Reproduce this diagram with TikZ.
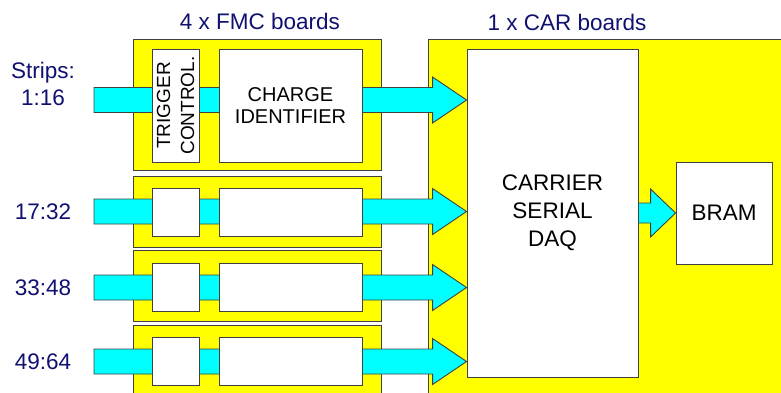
\documentclass[tikz,border=0pt]{standalone}
\usepackage{fontspec}
\setmainfont{Liberation Sans}
\usetikzlibrary{calc}
\definecolor{boardyellow}{RGB}{255,255,0}
\definecolor{busblue}{RGB}{0,255,255}
\definecolor{labelnavy}{RGB}{16,16,112}
\definecolor{edgegray}{RGB}{64,64,64}
\tikzset{
  board/.style={draw=edgegray,fill=boardyellow,line width=0.9pt,anchor=north west,inner sep=0pt},
  block/.style={draw=edgegray,fill=white,line width=0.9pt,inner sep=0pt,align=center,font=\fontsize{20}{22}\selectfont},
  flow/.style={draw=edgegray,fill=busblue,line width=0.9pt,line join=miter},
  tag/.style={text=labelnavy,align=center,font=\fontsize{22.5}{27}\selectfont}
}
\newcommand\blockarrow[5]{%
  \draw[flow] ($(#1)+(0,-#3)$) -- ($(#2)+(-#5,-#3)$) -- ($(#2)+(-#5,-#4)$) -- (#2)
    -- ($(#2)+(-#5,#4)$) -- ($(#2)+(-#5,#3)$) -- ($(#1)+(0,#3)$) -- cycle;}

\begin{document}
\begin{tikzpicture}[x=1pt,y=-1pt]
  \useasboundingbox (0,0) rectangle (781,392);
  \node[board,minimum width=380,minimum height=380] (car) at (428,39) {};
  \node[block,minimum width=171,minimum height=328,font=\fontsize{22.5}{28}\selectfont] (carrier) at (552.5,213) {CARRIER\\SERIAL\\DAQ};
  \node[block,minimum width=96,minimum height=102,font=\fontsize{22.5}{27}\selectfont] (bram) at (724,213) {BRAM};
  \node[board,minimum width=248,minimum height=131] (fmc1) at (133,39) {};
  \foreach \i/\y in {2/176,3/250,4/325}
    \node[board,minimum width=248,minimum height=71] (fmc\i) at (133,\y) {};
  \node[tag] (fmchead) at (260,21) {4 x FMC boards};
  \node[tag] (carhead) at (567,22) {1 x CAR boards};
  \node[tag] (strips) at (43,84) {Strips:\\1:16};
  \foreach \i/\y/\lab in {1/100/,2/211.5/17:32,3/287.5/33:48,4/361.5/49:64} {
    \coordinate (in\i) at (94,\y);
    \coordinate (out\i) at (carrier.west |- in\i);
    \blockarrow{in\i}{out\i}{12.5}{23}{34}
  }
  \coordinate (busout) at (carrier.east |- bram.west);
  \blockarrow{busout}{bram.west}{10}{24}{25}
  \node[block,rotate=90,minimum width=113,minimum height=47,font=\fontsize{19}{24}\selectfont] (trig1) at (175.5,105.5) {TRIGGER\\CONTROL.};
  \node[block,minimum width=143,minimum height=113] (ident1) at (290.5,105.5) {CHARGE\\IDENTIFIER};
  \foreach \i/\y/\lab in {2/212/17:32,3/287.5/33:48,4/361.5/49:64} {
    \node[block,minimum width=47,minimum height=48] (trig\i) at (175.5,\y) {};
    \node[block,minimum width=143,minimum height=48] (ident\i) at (290.5,\y) {};
    \node[tag] (lab\i) at (43,\y) {\lab};
  }
\end{tikzpicture}
\end{document}
